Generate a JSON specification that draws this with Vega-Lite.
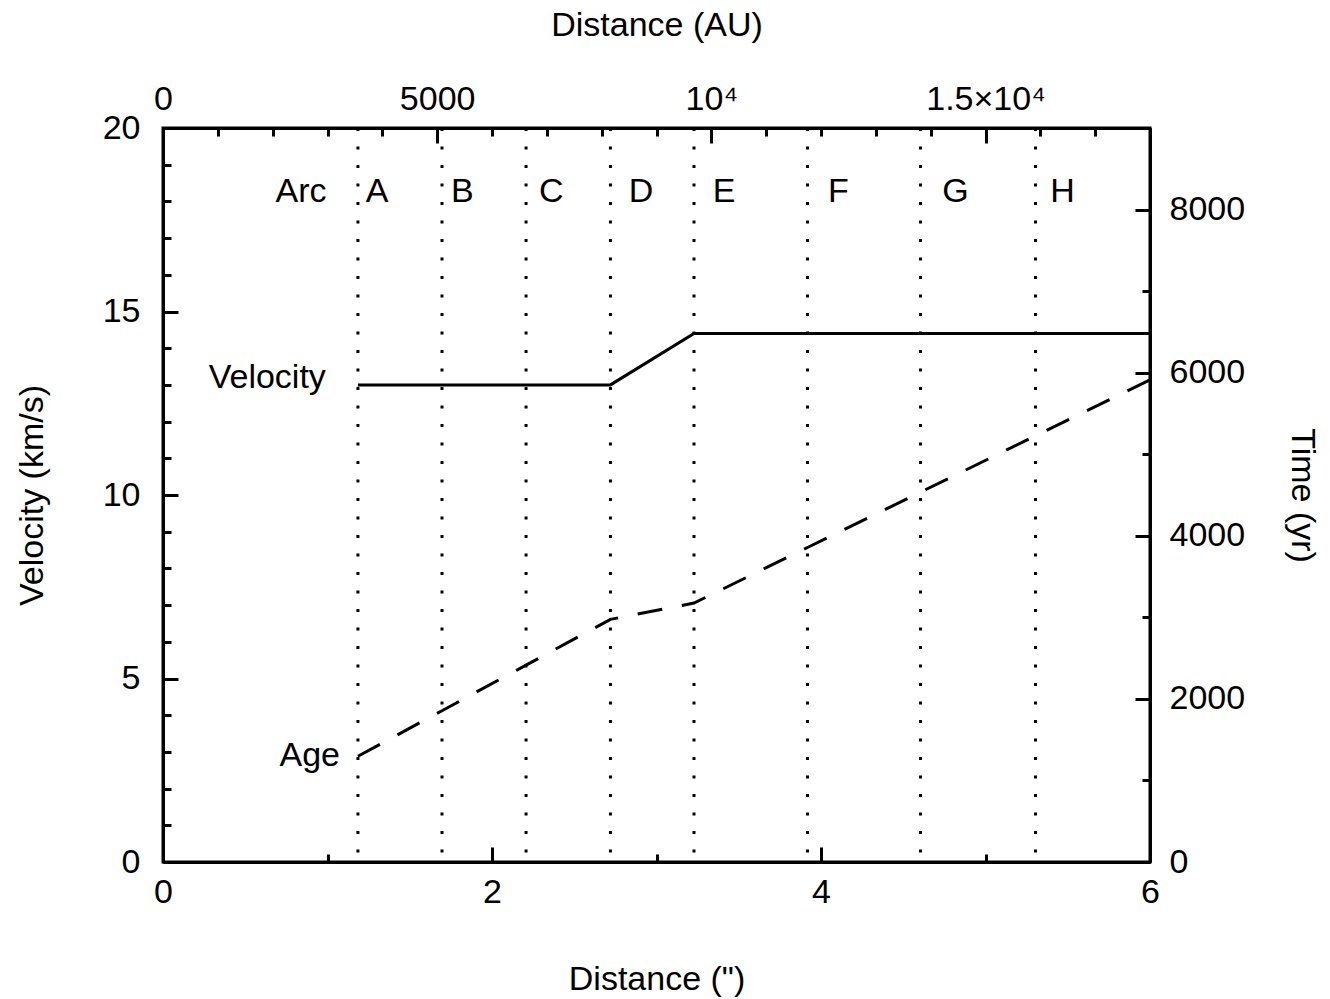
{
  "$schema": "https://vega.github.io/schema/vega-lite/v6.json",
  "width": 987,
  "height": 734,
  "autosize": {"type": "none"},
  "padding": {"left": 163, "top": 128, "right": 180, "bottom": 137},
  "background": "white",
  "config": {
    "font": "Liberation Sans",
    "view": {"stroke": "black", "strokeWidth": 3},
    "axis": {
      "domainColor": "black",
      "domainWidth": 3,
      "tickColor": "black",
      "tickWidth": 3,
      "grid": false,
      "labelFont": "Liberation Sans",
      "labelFontSize": 34,
      "labelColor": "black",
      "labelFlush": false,
      "labelOverlap": false,
      "titleFont": "Liberation Sans",
      "titleFontSize": 34,
      "titleFontWeight": "normal",
      "titleColor": "black"
    },
    "text": {"font": "Liberation Sans", "fontSize": 34, "color": "black"}
  },
  "datasets": {
    "arcs": [
      {"pos": 1.185}, {"pos": 1.696}, {"pos": 2.207}, {"pos": 2.72},
      {"pos": 3.228}, {"pos": 3.918}, {"pos": 4.605}, {"pos": 5.304}
    ],
    "velocity": [
      {"dist": 1.185, "vel": 13.0},
      {"dist": 2.72, "vel": 13.0},
      {"dist": 3.228, "vel": 14.4},
      {"dist": 6.0, "vel": 14.4}
    ],
    "age": [
      {"dist": 1.185, "time": 1296},
      {"dist": 1.696, "time": 1855},
      {"dist": 2.207, "time": 2414},
      {"dist": 2.72, "time": 2975},
      {"dist": 3.228, "time": 3175},
      {"dist": 3.918, "time": 3856},
      {"dist": 4.605, "time": 4535},
      {"dist": 5.304, "time": 5225},
      {"dist": 6.0, "time": 5912}
    ],
    "letters": [
      {"label": "Arc", "x": 0.839, "y": 18.26},
      {"label": "A", "x": 1.301, "y": 18.26},
      {"label": "B", "x": 1.82, "y": 18.26},
      {"label": "C", "x": 2.361, "y": 18.26},
      {"label": "D", "x": 2.906, "y": 18.26},
      {"label": "E", "x": 3.411, "y": 18.26},
      {"label": "F", "x": 4.105, "y": 18.26},
      {"label": "G", "x": 4.818, "y": 18.26},
      {"label": "H", "x": 5.468, "y": 18.26}
    ],
    "names": [
      {"label": "Velocity", "x": 0.99, "y": 13.2},
      {"label": "Age", "x": 1.076, "y": 2.89}
    ]
  },
  "layer": [
    {
      "data": {"name": "arcs"},
      "mark": {"type": "rule", "color": "black", "strokeWidth": 3, "strokeDash": [3, 15.5]},
      "encoding": {
        "x": {
          "field": "pos", "type": "quantitative",
          "scale": {"domain": [0, 6], "nice": false, "zero": false},
          "axis": {
            "orient": "top",
            "title": "Distance (AU)",
            "titlePadding": 33,
            "labelPadding": 27,
            "values": [0, 0.3333333, 0.6666667, 1, 1.3333333, 1.6666667, 2, 2.3333333, 2.6666667, 3, 3.3333333, 3.6666667, 4, 4.3333333, 4.6666667, 5, 5.3333333, 5.6666667, 6],
            "labelExpr": "round(datum.value*3000) == 0 ? '0' : round(datum.value*3000) == 5000 ? '5000' : round(datum.value*3000) == 10000 ? '10⁴' : round(datum.value*3000) == 15000 ? '1.5×10⁴' : ''",
            "tickSize": {"condition": {"test": "round(datum.value*3000) % 5000 == 0", "value": -15}, "value": -8}
          }
        }
      }
    },
    {
      "data": {"name": "velocity"},
      "mark": {"type": "line", "color": "black", "strokeWidth": 3},
      "encoding": {
        "x": {
          "field": "dist", "type": "quantitative",
          "scale": {"domain": [0, 6], "nice": false, "zero": false},
          "axis": {
            "orient": "bottom",
            "title": "Distance (\")",
            "titlePadding": 46,
            "labelPadding": 28,
            "values": [0, 1, 2, 3, 4, 5, 6],
            "labelExpr": "datum.value % 2 == 0 ? datum.label : ''",
            "tickSize": {"condition": {"test": "datum.value % 2 == 0", "value": -15}, "value": -8}
          }
        },
        "y": {
          "field": "vel", "type": "quantitative",
          "scale": {"domain": [0, 20], "nice": false, "zero": false},
          "axis": {
            "orient": "left",
            "title": "Velocity (km/s)",
            "titlePadding": 53,
            "labelPadding": 38,
            "values": [0, 1, 2, 3, 4, 5, 6, 7, 8, 9, 10, 11, 12, 13, 14, 15, 16, 17, 18, 19, 20],
            "labelExpr": "datum.value % 5 == 0 ? datum.label : ''",
            "tickSize": {"condition": {"test": "datum.value % 5 == 0", "value": -15}, "value": -8}
          }
        }
      }
    },
    {
      "data": {"name": "age"},
      "mark": {"type": "line", "color": "black", "strokeWidth": 3, "strokeDash": [25, 20]},
      "encoding": {
        "x": {
          "field": "dist", "type": "quantitative",
          "scale": {"domain": [0, 6], "nice": false, "zero": false},
          "axis": null
        },
        "y": {
          "field": "time", "type": "quantitative",
          "scale": {"domain": [0, 9000], "nice": false, "zero": false},
          "axis": {
            "orient": "right",
            "title": "Time (yr)",
            "titlePadding": 40,
            "labelPadding": 34,
            "format": "d",
            "values": [0, 1000, 2000, 3000, 4000, 5000, 6000, 7000, 8000, 9000],
            "labelExpr": "datum.value % 2000 == 0 ? datum.label : ''",
            "tickSize": {"condition": {"test": "datum.value % 2000 == 0", "value": -15}, "value": -8}
          }
        }
      }
    },
    {
      "data": {"name": "letters"},
      "mark": {"type": "text", "align": "center", "baseline": "middle"},
      "encoding": {
        "x": {"field": "x", "type": "quantitative", "scale": {"domain": [0, 6], "nice": false, "zero": false}, "axis": null},
        "y": {"field": "y", "type": "quantitative", "scale": {"domain": [0, 20], "nice": false, "zero": false}, "axis": null},
        "text": {"field": "label"}
      }
    },
    {
      "data": {"name": "names"},
      "mark": {"type": "text", "align": "right", "baseline": "middle"},
      "encoding": {
        "x": {"field": "x", "type": "quantitative", "scale": {"domain": [0, 6], "nice": false, "zero": false}, "axis": null},
        "y": {"field": "y", "type": "quantitative", "scale": {"domain": [0, 20], "nice": false, "zero": false}, "axis": null},
        "text": {"field": "label"}
      }
    }
  ],
  "resolve": {"scale": {"y": "independent"}, "axis": {"x": "independent", "y": "independent"}}
}
